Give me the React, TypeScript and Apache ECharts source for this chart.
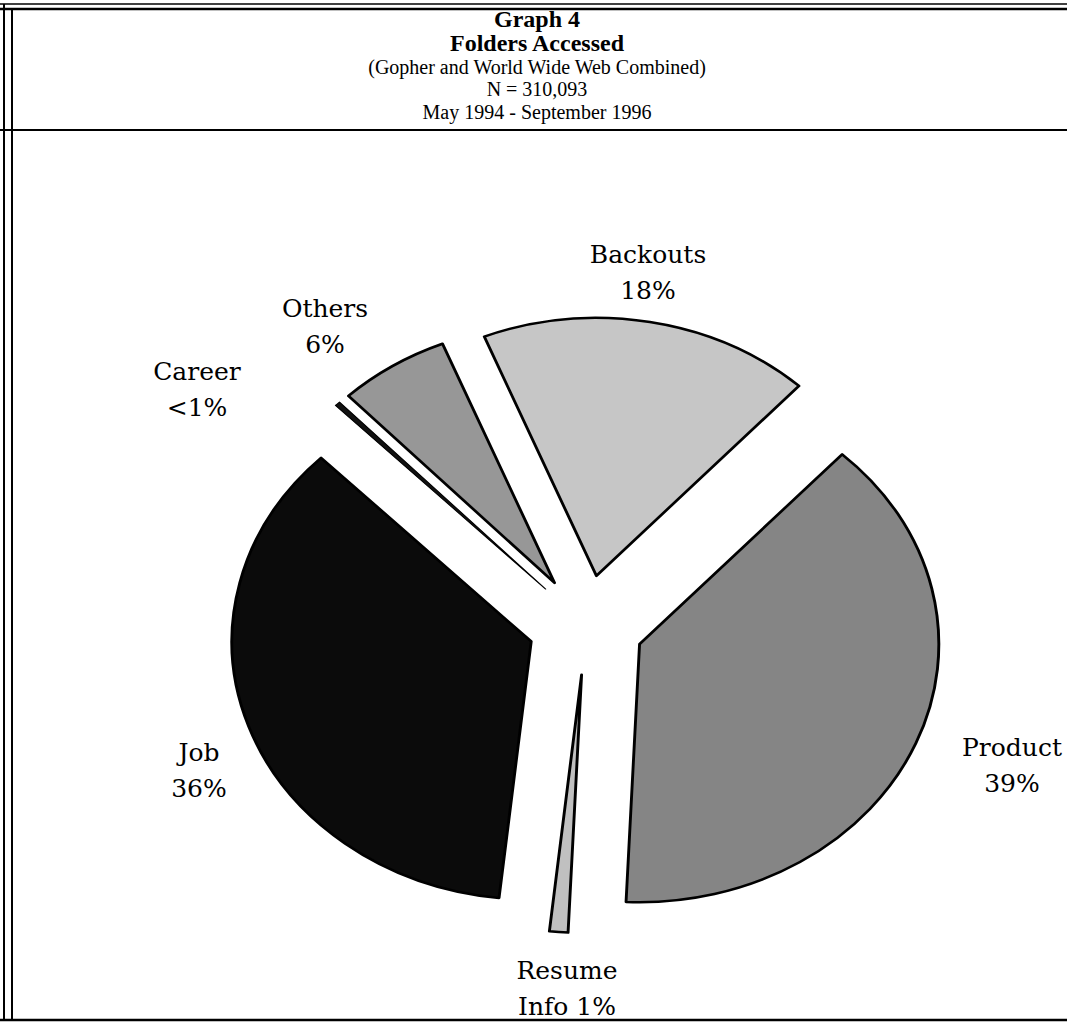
import React, { useEffect, useRef } from "react";
import * as echarts from "echarts";

// ---- data ----
const categories = ["Backouts", "Product", "Resume Info", "Job", "Career", "Others"];
const values = [18, 39, 1, 36, 0.3, 6];
const labelTexts = ["Backouts\n18%", "Product\n39%", "Resume\nInfo 1%", "Job\n36%", "Career\n<1%", "Others\n6%"];
const titleLines = [
  "Graph 4",
  "Folders Accessed",
  "(Gopher and World Wide Web Combined)",
  "N = 310,093",
  "May 1994 - September 1996",
];

// ---- layout / style ----
const W = 1067;
const H = 1026;
const PIE_CX = 586;
const PIE_CY = 625;
const STRETCH = 1.16;
const sliceColors = ["#c6c6c6", "#858585", "#c0c0c0", "#0b0b0b", "#111111", "#979797"];
const labelPos: [number, number][] = [
  [648, 272],
  [1012, 765],
  [567, 988],
  [199, 770],
  [197, 389],
  [325, 326],
];
const titleY = [19, 43, 67, 89, 112];
const LABEL_FONT = '"DejaVu Serif", "Liberation Serif", serif';
const TITLE_FONT = '"Liberation Serif", "DejaVu Serif", serif';

export default function App() {
  const baseRef = useRef<HTMLDivElement>(null);
  const pieRef = useRef<HTMLDivElement>(null);

  useEffect(() => {
    if (!baseRef.current || !pieRef.current) return;
    const base = echarts.init(baseRef.current, undefined, { renderer: "svg" });
    const pie = echarts.init(pieRef.current, undefined, { renderer: "svg" });

    const line = (x1: number, y1: number, x2: number, y2: number, w: number) => ({
      type: "line",
      shape: { x1, y1, x2, y2 },
      style: { stroke: "#000", lineWidth: w },
      silent: true,
    });

    const graphics: any[] = [
      line(0, 4, W, 4, 1.5),
      line(0, 9, W, 9, 2.5),
      line(4, 4, 4, H - 5, 2),
      line(12, 9, 12, H - 5, 2),
      line(0, 130, W, 130, 2),
      line(0, H - 6, W, H - 6, 2.5),
    ];
    titleLines.forEach((t, i) => {
      graphics.push({
        type: "text",
        x: 537,
        y: titleY[i],
        silent: true,
        style: {
          text: t,
          fill: "#000",
          font: (i < 2 ? "bold 24px " : "20px ") + TITLE_FONT,
          textAlign: "center",
          textVerticalAlign: "middle",
        },
      });
    });
    labelTexts.forEach((t, i) => {
      graphics.push({
        type: "text",
        x: labelPos[i][0],
        y: labelPos[i][1],
        silent: true,
        style: {
          text: t,
          fill: "#000",
          font: "25px " + LABEL_FONT,
          lineHeight: 36,
          textAlign: "center",
          textVerticalAlign: "middle",
        },
      });
    });

    base.setOption({
      animation: false,
      backgroundColor: "#fff",
      graphic: graphics,
    });

    pie.setOption({
      animation: false,
      backgroundColor: "transparent",
      series: [
        {
          type: "pie",
          center: [PIE_CX, PIE_CY],
          radius: [0, 258],
          startAngle: 112,
          clockwise: true,
          selectedMode: "multiple",
          selectedOffset: 50,
          silent: true,
          label: { show: false },
          labelLine: { show: false },
          emphasis: { disabled: true },
          itemStyle: { borderColor: "#000", borderWidth: 2.5 },
          select: { itemStyle: { borderColor: "#000", borderWidth: 2.5 } },
          data: categories.map((name, i) => ({
            name,
            value: values[i],
            selected: true,
            itemStyle: {
              color: sliceColors[i],
              borderWidth: name === "Career" ? 1 : 2.5,
            },
            select: {
              itemStyle: {
                color: sliceColors[i],
                borderWidth: name === "Career" ? 1 : 2.5,
              },
            },
          })),
        },
      ],
    });

    return () => {
      base.dispose();
      pie.dispose();
    };
  }, []);

  return (
    <div
      style={{
        position: "absolute",
        left: 0,
        top: 0,
        width: W,
        height: H,
        overflow: "hidden",
        background: "#fff",
      }}
    >
      <div ref={baseRef} style={{ position: "absolute", left: 0, top: 0, width: W, height: H }} />
      <div
        ref={pieRef}
        style={{
          position: "absolute",
          left: 0,
          top: 0,
          width: W,
          height: H,
          transform: `scaleX(${STRETCH})`,
          transformOrigin: `${PIE_CX}px ${PIE_CY}px`,
          pointerEvents: "none",
        }}
      />
    </div>
  );
}
